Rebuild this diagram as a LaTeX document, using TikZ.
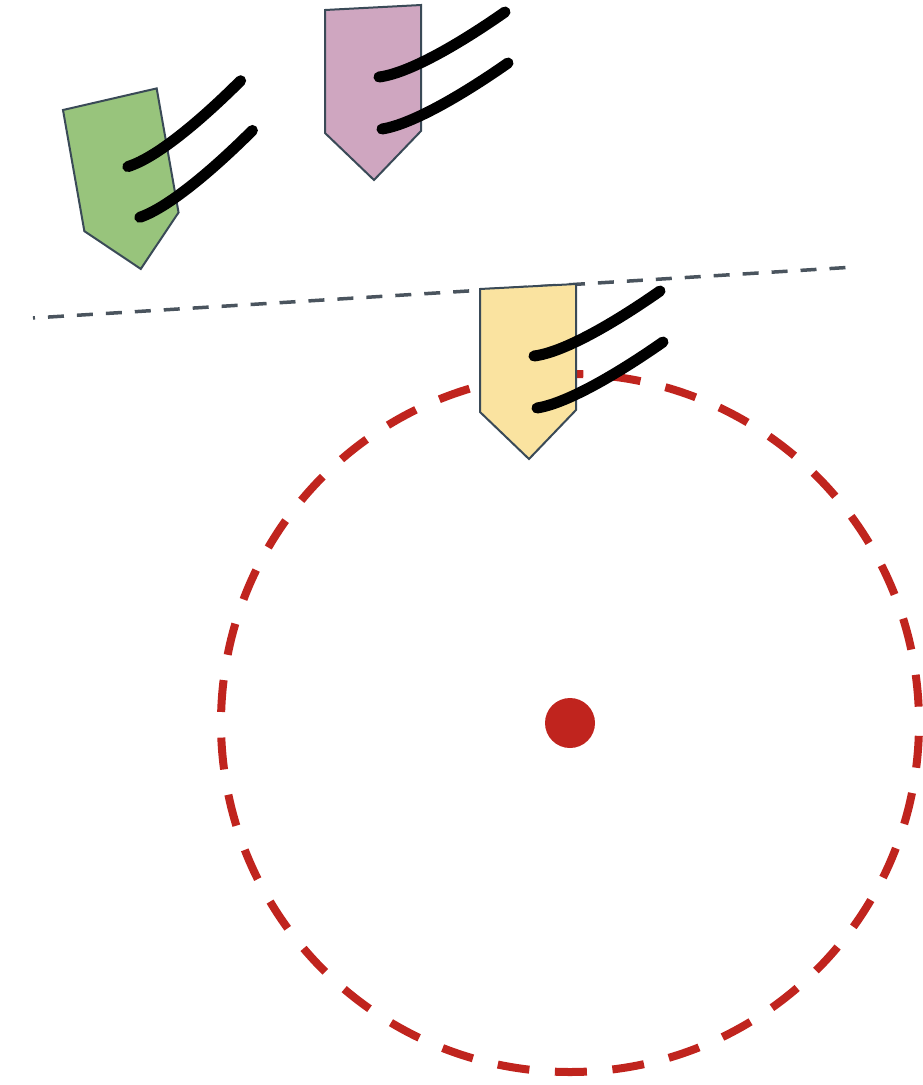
\documentclass[tikz,border=0pt]{standalone}
\usepackage{tikz}

\definecolor{tagGreen}{RGB}{152,196,124}
\definecolor{tagPink}{RGB}{207,166,192}
\definecolor{tagYellow}{RGB}{250,227,160}
\definecolor{edgeGray}{RGB}{58,74,87}
\definecolor{lineGray}{RGB}{74,84,94}
\definecolor{ringRed}{RGB}{192,36,30}

\begin{document}
\begin{tikzpicture}[x=1pt, y=-1pt,
                        tagedge/.style={draw=edgeGray, line width=2},
                        hair/.style={line width=11, line cap=round},
                        horizon/.style={draw=lineGray, line width=3.5, dash pattern=on 16pt off 13pt, dash phase=14pt},
                        ring/.style={draw=ringRed, line width=8, dash pattern=on 32pt off 25.62pt, dash phase=44.8pt}]
                        \useasboundingbox (0,0) rectangle (923,1085);
                        \draw [ring] (570,723) circle [radius=349];
                        \fill [ringRed] (570,723) circle [radius=25];
                        \draw [horizon] (33,318) -- (855,267);
                        \foreach \x/\y/\r/\c in {63/110/10/tagGreen, 325/10/0/tagPink, 480/289/0/tagYellow}
                        {
                            \begin{scope}[shift={(\x,\y)}, rotate=\r]
                                \draw [tagedge, fill=\c] (0,0) -- (96,-5) -- (96,121) -- (49,170) -- (0,123) -- cycle;
                                \draw [hair] (54,67) .. controls (86,63) and (140,30) .. (180,2);
                                \draw [hair] (57,119) .. controls (89,114) and (143,81) .. (183,53);
                            \end{scope}
                        }
                    \end{tikzpicture}
\end{document}
